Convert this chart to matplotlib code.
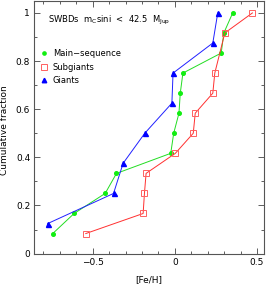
import numpy as np
import matplotlib
matplotlib.use("Agg")
import matplotlib.pyplot as plt
from matplotlib.ticker import MultipleLocator

# [Fe/H] values, cumulative fraction for each
ms_feh = [-0.743, -0.613, -0.424, -0.355, -0.025, -0.007, 0.025, 0.033, 0.049, 0.282, 0.298, 0.352]
ms_cum = [1/12, 2/12, 3/12, 4/12, 5/12, 6/12, 7/12, 8/12, 9/12, 10/12, 11/12, 12/12]

sg_feh = [-0.542, -0.193, -0.185, -0.175, 0.003, 0.112, 0.124, 0.231, 0.243, 0.304, 0.472]
sg_cum = [1/12, 2/12, 3/12, 4/12, 5/12, 6/12, 7/12, 8/12, 9/12, 11/12, 12/12]

gi_feh = [-0.773, -0.373, -0.315, -0.183, -0.018, -0.011, 0.231, 0.261]
gi_cum = [1/8, 2/8, 3/8, 4/8, 5/8, 6/8, 7/8, 8/8]

plt.rcParams['font.family'] = 'DejaVu Sans'
fs = 6.5

fig = plt.figure(figsize=(2.66, 2.84), dpi=100)
ax = fig.add_axes([0.129, 0.107, 0.862, 0.889])

ax.plot(ms_feh, ms_cum, color='#22dd22', lw=0.7, marker='o', ms=2.6,
        mfc='#11ee11', mec='#11ee11', label='Main\u2212sequence')
ax.plot(sg_feh, sg_cum, color='#ff3030', lw=0.7, marker='s', ms=4.2,
        mfc='none', mec='#ff6060', mew=0.7, label='Subgiants')
ax.plot(gi_feh, gi_cum, color='#2020ff', lw=0.7, marker='^', ms=3.6,
        mfc='#0000ff', mec='#0000ff', label='Giants')

ax.set_xlim(-0.855, 0.54)
ax.set_ylim(0, 1.049)
ax.xaxis.set_major_locator(MultipleLocator(0.5))
ax.xaxis.set_minor_locator(MultipleLocator(0.1))
ax.yaxis.set_major_locator(MultipleLocator(0.2))
ax.yaxis.set_minor_locator(MultipleLocator(0.1))
ax.set_xticks([-0.5, 0, 0.5])
ax.set_xticklabels(['\u22120.5', '0', '0.5'])
ax.set_yticks([0, 0.2, 0.4, 0.6, 0.8, 1])
ax.set_yticklabels(['0', '0.2', '0.4', '0.6', '0.8', '1'])
ax.tick_params(which='both', direction='in', top=True, right=True,
               labelsize=fs, width=0.6, color='#444444', pad=3)
ax.tick_params(which='major', length=4)
ax.tick_params(which='minor', length=2)
for s in ax.spines.values():
    s.set_linewidth(0.8)
    s.set_color('#555555')

ax.set_xlabel('[Fe/H]', fontsize=fs, labelpad=6)
ax.set_ylabel('Cumulative fraction', fontsize=fs)
ax.yaxis.set_label_coords(-0.112, 0.49)

ax.text(0.06, 0.925, r'SWBDs  m$_\mathregular{C}$sini  <  42.5  M$_\mathregular{Jup}$',
        transform=ax.transAxes, fontsize=fs - 0.5, va='center')

ax.legend(loc='upper left', bbox_to_anchor=(-0.01, 0.84), frameon=False,
          fontsize=fs - 0.5, handlelength=1.0, handletextpad=0.6,
          labelspacing=0.55, numpoints=1, markerscale=0.9)
for line in ax.get_legend().get_lines():
    line.set_linestyle('none')

fig.savefig('out.png', dpi=100)
